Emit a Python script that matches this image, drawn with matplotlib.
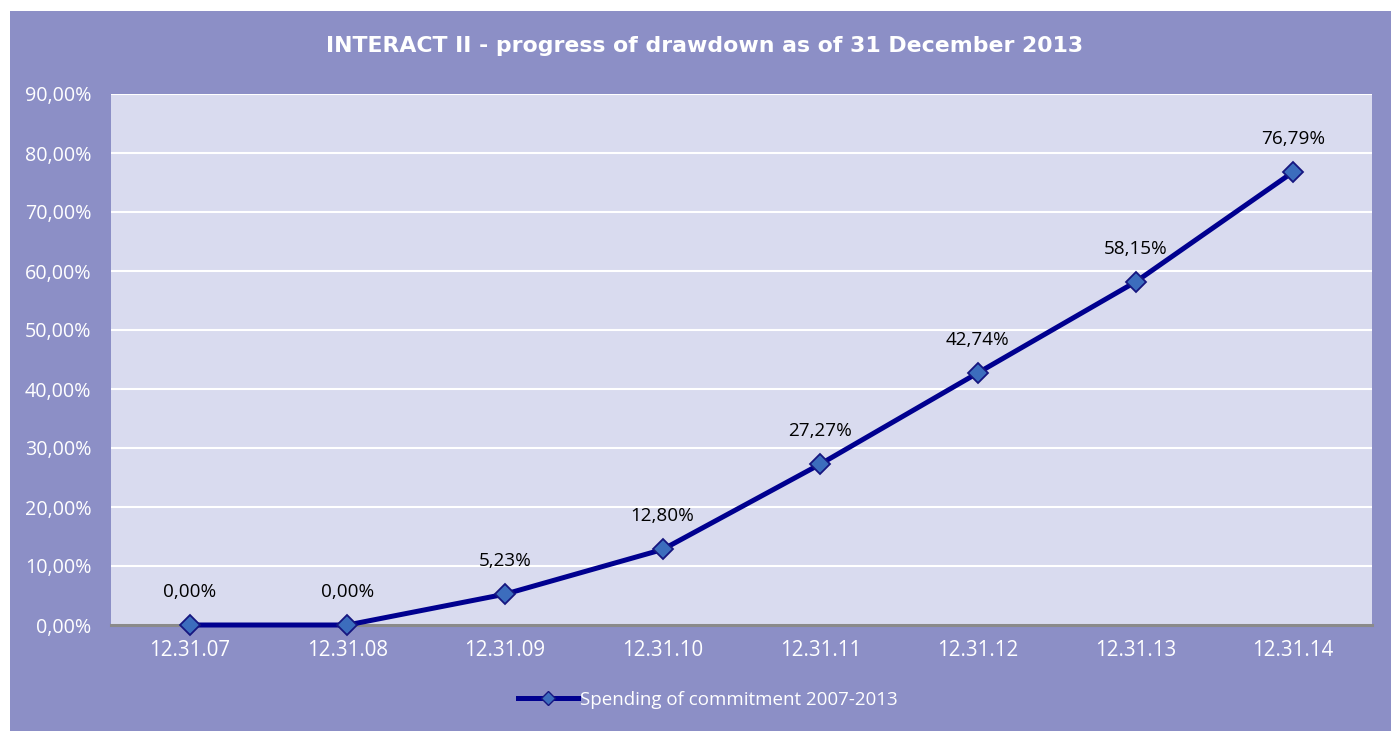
import matplotlib
matplotlib.use("Agg")
import matplotlib.pyplot as plt
from matplotlib.patches import Rectangle
from matplotlib.lines import Line2D
import numpy as np

categories = ["12.31.07", "12.31.08", "12.31.09", "12.31.10", "12.31.11", "12.31.12", "12.31.13", "12.31.14"]
values = [0.00, 0.00, 5.23, 12.80, 27.27, 42.74, 58.15, 76.79]
value_labels = ["0,00%", "0,00%", "5,23%", "12,80%", "27,27%", "42,74%", "58,15%", "76,79%"]
yticks = [0, 10, 20, 30, 40, 50, 60, 70, 80, 90]
ytick_labels = ["0,00%", "10,00%", "20,00%", "30,00%", "40,00%", "50,00%", "60,00%", "70,00%", "80,00%", "90,00%"]
title = "INTERACT II - progress of drawdown as of 31 December 2013"
series_name = "Spending of commitment 2007-2013"

W, H = 1391, 731
fig = plt.figure(figsize=(W / 100, H / 100), dpi=100)
fig.patch.set_facecolor("white")

outer = "#8C8FC6"
inner = "#D9DBEF"
line_c = "#00008F"
marker_fc = "#3C6DBD"
marker_ec = "#161680"

fig.add_artist(Rectangle((10 / W, 0), 1 - 10 / W, 1 - 11 / H, transform=fig.transFigure,
                         facecolor=outer, edgecolor="none", zorder=0))

ax = fig.add_axes([111 / W, (H - 625) / H, (1372 - 111) / W, (625 - 94) / H])
ax.set_facecolor(inner)
x = np.arange(len(categories))
ax.plot(x, values, color=line_c, lw=3.6, marker="D", ms=10, mfc=marker_fc, mec=marker_ec,
        mew=1.3, zorder=5, clip_on=False)
ax.set_xlim(-0.5, len(categories) - 0.5)
ax.set_ylim(0, 90)
ax.set_yticks(yticks)
ax.set_yticklabels(ytick_labels)
ax.set_xticks(x)
ax.set_xticklabels(categories)
ax.grid(axis="y", color="white", lw=1.5)
ax.set_axisbelow(True)
for s in ["top", "right", "left"]:
    ax.spines[s].set_visible(False)
ax.spines["bottom"].set_color("#8A8A8A")
ax.spines["bottom"].set_linewidth(2.2)
ax.spines["bottom"].set_zorder(3)
ax.tick_params(length=0, colors="white")
ax.tick_params(axis="x", pad=11, labelsize=14.8)
ax.tick_params(axis="y", pad=14, labelsize=14.2)
for t in ax.get_xticklabels() + ax.get_yticklabels():
    t.set_fontfamily("Open Sans")
    t.set_color("white")

for xi, v, lab in zip(x, values, value_labels):
    ax.annotate(lab, (xi, v), xytext=(0, 24), textcoords="offset points", ha="center", va="center",
                fontsize=13.6, color="black", fontfamily="Open Sans", zorder=6)

fig.text(705 / W, 1 - 46 / H, title, ha="center", va="center", color="white",
         fontsize=15.8, fontweight="bold", fontfamily="DejaVu Sans")

handle = Line2D([], [], color=line_c, lw=3.6, marker="D", ms=7, mfc=marker_fc, mec=marker_ec, mew=1)
leg = fig.legend([handle], [series_name], loc="center", bbox_to_anchor=(708 / W, 1 - 700 / H),
                 frameon=False, handlelength=3.2, handletextpad=0.1,
                 prop={"family": "Open Sans", "size": 13.5})
for t in leg.get_texts():
    t.set_color("white")

fig.savefig("out.png", dpi=100, facecolor=fig.get_facecolor())
